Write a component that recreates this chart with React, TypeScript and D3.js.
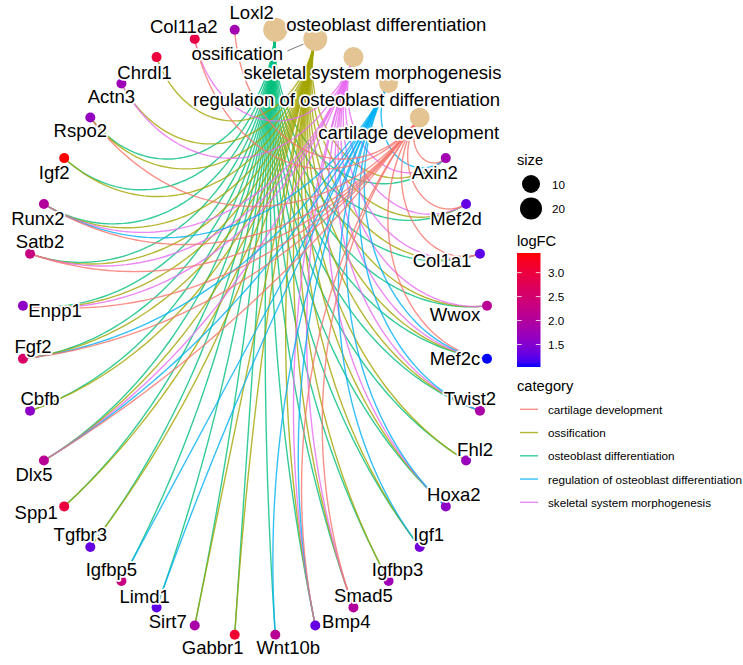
import React from "react";
import * as d3 from "d3";

// ---------- data ----------
const categories = [
  "osteoblast differentiation",
  "ossification",
  "skeletal system morphogenesis",
  "regulation of osteoblast differentiation",
  "cartilage development",
];

const genes = [
  "Axin2", "Mef2d", "Col1a1", "Wwox", "Mef2c", "Twist2", "Fhl2", "Hoxa2", "Igf1", "Igfbp3",
  "Smad5", "Bmp4", "Wnt10b", "Gabbr1", "Sirt7", "Limd1", "Igfbp5", "Tgfbr3", "Spp1", "Dlx5",
  "Cbfb", "Fgf2", "Enpp1", "Satb2", "Runx2", "Igf2", "Rspo2", "Actn3", "Chrdl1", "Col11a2", "Loxl2",
];

const logFC = [
  1.8, 1.3, 1.25, 2.1, 1.03, 1.9, 1.7, 1.6, 1.4, 1.75,
  2.0, 1.3, 2.1, 3.1, 1.9, 1.25, 2.3, 1.3, 3.0, 2.1,
  1.6, 2.6, 1.6, 2.3, 2.0, 3.41, 1.65, 1.75, 3.0, 2.9, 1.8,
];

const osteoblastDifferentiationGenes = [
  "Axin2", "Mef2d", "Col1a1", "Wwox", "Mef2c", "Twist2", "Fhl2", "Hoxa2", "Igf1", "Igfbp3",
  "Smad5", "Bmp4", "Wnt10b", "Gabbr1", "Sirt7", "Limd1", "Igfbp5", "Tgfbr3", "Spp1", "Dlx5",
  "Cbfb", "Fgf2", "Enpp1", "Satb2", "Runx2", "Igf2", "Rspo2",
];
const ossificationGenes = [
  "Axin2", "Mef2d", "Col1a1", "Wwox", "Mef2c", "Twist2", "Fhl2", "Hoxa2", "Igf1", "Igfbp3",
  "Smad5", "Bmp4", "Gabbr1", "Sirt7", "Tgfbr3", "Spp1", "Dlx5", "Cbfb", "Fgf2", "Enpp1",
  "Satb2", "Runx2", "Igf2", "Rspo2", "Actn3", "Chrdl1",
];
const skeletalSystemMorphogenesisGenes = [
  "Axin2", "Mef2d", "Col1a1", "Wwox", "Mef2c", "Twist2", "Hoxa2", "Smad5", "Bmp4", "Dlx5",
  "Enpp1", "Satb2", "Runx2", "Actn3", "Col11a2",
];
const regulationOfOsteoblastDifferentiationGenes = [
  "Axin2", "Mef2c", "Twist2", "Hoxa2", "Igf1", "Bmp4", "Wnt10b", "Limd1", "Igfbp5", "Dlx5",
  "Fgf2", "Runx2",
];
const cartilageDevelopmentGenes = [
  "Axin2", "Mef2d", "Col1a1", "Mef2c", "Smad5", "Bmp4", "Dlx5", "Fgf2", "Enpp1", "Satb2",
  "Runx2", "Rspo2", "Col11a2", "Loxl2",
];
const categoryGeneSets = [
  osteoblastDifferentiationGenes,
  ossificationGenes,
  skeletalSystemMorphogenesisGenes,
  regulationOfOsteoblastDifferentiationGenes,
  cartilageDevelopmentGenes,
];

const legendCategories = [
  "cartilage development",
  "ossification",
  "osteoblast differentiation",
  "regulation of osteoblast differentiation",
  "skeletal system morphogenesis",
];
const legendColors = ["#F8766D", "#A3A500", "#00BF7D", "#00B0F6", "#E76BF3"];
const sizeBreaks = [10, 20];
const logFCTicks = [1.5, 2.0, 2.5, 3.0];

// ---------- layout (label placement, repel-like offsets) ----------
const labelOffsets: Record<string, [number, number]> = {
  "osteoblast differentiation": [111, -5],
  ossification: [-78, 15],
  "skeletal system morphogenesis": [19, 15],
  "regulation of osteoblast differentiation": [-42, 16],
  "cartilage development": [-11, 15],
  Axin2: [-11, 14], Mef2d: [-10, 15], Col1a1: [-38, 7], Wwox: [-32, 9], Mef2c: [-32, 0],
  Twist2: [-10, -12], Fhl2: [9, -11], Hoxa2: [8, -12], Igf1: [9, -12], Igfbp3: [9, -11],
  Smad5: [10, -12], Bmp4: [31, -4], Wnt10b: [13, 13], Gabbr1: [-22, 13], Sirt7: [-27, -4],
  Limd1: [-12, -11], Igfbp5: [-10, -11], Tgfbr3: [-10, -12], Spp1: [-28, 6], Dlx5: [-10, 14],
  Cbfb: [10, -12], Fgf2: [10, -12], Enpp1: [32, 5], Satb2: [10, -12], Runx2: [-6, 15],
  Igf2: [-10, 14], Rspo2: [-10, 13], Actn3: [-10, 13], Chrdl1: [-12, 15], Col11a2: [-11, -12],
  Loxl2: [17, -17],
};

const W = 743;
const H = 665;
const FONT = "'Liberation Sans', Arial, Helvetica, sans-serif";

const xScale = d3.scaleLinear().domain([-1, 1]).range([22.1, 487.9]);
const yScale = d3.scaleLinear().domain([-1, 1]).range([635.85, 28.65]);

const nodeNames = [...categories, ...genes];
const angleScale = d3
  .scaleLinear()
  .domain([0, nodeNames.length])
  .range([(85 * Math.PI) / 180, (85 * Math.PI) / 180 - 2 * Math.PI]);

const colorScale = d3
  .scaleLinear<string>()
  .domain([d3.min(logFC) as number, d3.max(logFC) as number])
  .range(["blue", "red"])
  .interpolate(d3.interpolateLab);

const sizeScale = d3.scaleLinear().domain([Math.sqrt(10), Math.sqrt(20)]).range([9, 11]);
const rOf = (n: number) => sizeScale(Math.sqrt(n));

const catColor = (c: string) => legendColors[legendCategories.indexOf(c)];

function geodesic(a0: number, a1: number, steps = 80): [number, number][] {
  const p0: [number, number] = [Math.cos(a0), Math.sin(a0)];
  const p1: [number, number] = [Math.cos(a1), Math.sin(a1)];
  let d = Math.abs(a1 - a0) % (2 * Math.PI);
  if (d > Math.PI) d = 2 * Math.PI - d;
  if (Math.PI - d < 1e-3) return [p0, p1];
  const beta = Math.atan2(p0[1] + p1[1], p0[0] + p1[0]);
  const dist = 1 / Math.cos(d / 2);
  const r = Math.tan(d / 2);
  const ox = dist * Math.cos(beta);
  const oy = dist * Math.sin(beta);
  const t0 = Math.atan2(p0[1] - oy, p0[0] - ox);
  const t1 = Math.atan2(p1[1] - oy, p1[0] - ox);
  let dt = t1 - t0;
  while (dt > Math.PI) dt -= 2 * Math.PI;
  while (dt < -Math.PI) dt += 2 * Math.PI;
  const pts: [number, number][] = [];
  for (let k = 0; k <= steps; k++) {
    const t = t0 + (dt * k) / steps;
    pts.push([ox + r * Math.cos(t), oy + r * Math.sin(t)]);
  }
  return pts;
}

const line = d3
  .line<[number, number]>()
  .x((d) => xScale(d[0]))
  .y((d) => yScale(d[1]));

export default function App() {
  const nodePos = (name: string) => {
    const i = nodeNames.indexOf(name);
    const a = angleScale(i);
    return { a, x: xScale(Math.cos(a)), y: yScale(Math.sin(a)) };
  };

  const edges: { key: string; d: string; color: string }[] = [];
  categories.forEach((c, ci) => {
    const pc = nodePos(c);
    categoryGeneSets[ci].forEach((g) => {
      const pg = nodePos(g);
      edges.push({
        key: c + "-" + g,
        d: line(geodesic(pc.a, pg.a)) as string,
        color: catColor(c),
      });
    });
  });

  const textStyle: React.CSSProperties = {
    fontFamily: FONT,
    paintOrder: "stroke",
  };

  // colorbar
  const cbTop = 253;
  const cbBottom = 367;
  const cbX = 517;
  const cbW = 23.5;
  const cbScale = d3
    .scaleLinear()
    .domain(colorScale.domain())
    .range([cbBottom, cbTop]);
  const stops = d3.range(0, 21).map((k) => k / 20);

  const ossPos = nodePos("ossification");
  const ossOff = labelOffsets["ossification"];
  const leadStart = { x: ossPos.x + ossOff[0] + 50, y: ossPos.y + ossOff[1] - 3 };
  const vx = ossPos.x - leadStart.x;
  const vy = ossPos.y - leadStart.y;
  const vl = Math.hypot(vx, vy);
  const ossR = rOf(ossificationGenes.length) + 1;
  const leadEnd = { x: ossPos.x - (vx / vl) * ossR, y: ossPos.y - (vy / vl) * ossR };

  return (
    <svg
      width={W}
      height={H}
      style={{ position: "absolute", left: 0, top: 0, background: "#fff" }}
    >
      <defs>
        <linearGradient id="cb" x1="0" y1="1" x2="0" y2="0">
          {stops.map((s) => {
            const [lo, hi] = colorScale.domain();
            return <stop key={s} offset={s} stopColor={colorScale(lo + (hi - lo) * s)} />;
          })}
        </linearGradient>
      </defs>
      <rect width={W} height={H} fill="#fff" />

      {/* edges */}
      <g fill="none" strokeWidth={1.4} strokeOpacity={0.8}>
        {edges.map((e) => (
          <path key={e.key} d={e.d} stroke={e.color} />
        ))}
      </g>

      {/* leader segment */}
      <line
        x1={leadStart.x}
        y1={leadStart.y}
        x2={leadEnd.x}
        y2={leadEnd.y}
        stroke="#555"
        strokeWidth={0.8}
      />

      {/* nodes */}
      <g>
        {categories.map((c, ci) => {
          const p = nodePos(c);
          return (
            <circle key={c} cx={p.x} cy={p.y} r={rOf(categoryGeneSets[ci].length)} fill="#E5C494" />
          );
        })}
        {genes.map((g, gi) => {
          const p = nodePos(g);
          return <circle key={g} cx={p.x} cy={p.y} r={5} fill={colorScale(logFC[gi])} />;
        })}
      </g>

      {/* labels */}
      <g
        fontSize={18.5}
        textAnchor="middle"
        dominantBaseline="central"
        stroke="#fff"
        strokeWidth={3.5}
        strokeLinejoin="round"
        fill="#000"
      >
        {nodeNames.map((n) => {
          const p = nodePos(n);
          const o = labelOffsets[n];
          return (
            <text key={n} x={p.x + o[0]} y={p.y + o[1]} style={textStyle}>
              {n}
            </text>
          );
        })}
      </g>

      {/* legend: size */}
      <g style={{ fontFamily: FONT }}>
        <text x={517} y={165} fontSize={14.7}>size</text>
        {sizeBreaks.map((b, k) => {
          const cy = 184 + k * 24.5;
          return (
            <g key={b}>
              <circle cx={531} cy={cy} r={rOf(b)} fill="#000" />
              <text x={552} y={cy} fontSize={11.7} dominantBaseline="central">{b}</text>
            </g>
          );
        })}

        {/* legend: logFC */}
        <text x={517} y={245.5} fontSize={14.7}>logFC</text>
        <rect x={cbX} y={cbTop} width={cbW} height={cbBottom - cbTop} fill="url(#cb)" />
        {logFCTicks.map((t) => {
          const y = cbScale(t);
          return (
            <g key={t}>
              <line x1={cbX} x2={cbX + 4.7} y1={y} y2={y} stroke="#fff" strokeWidth={0.8} />
              <line x1={cbX + cbW - 4.7} x2={cbX + cbW} y1={y} y2={y} stroke="#fff" strokeWidth={0.8} />
              <text x={548} y={y} fontSize={11.7} dominantBaseline="central">{t.toFixed(1)}</text>
            </g>
          );
        })}

        {/* legend: category */}
        <text x={517} y={391} fontSize={14.7}>category</text>
        {legendCategories.map((c, k) => {
          const y = 409.3 + k * 23.25;
          return (
            <g key={c}>
              <line x1={520} x2={538} y1={y} y2={y} stroke={legendColors[k]} strokeOpacity={0.8} strokeWidth={1.4} />
              <text x={548} y={y} fontSize={11.7} dominantBaseline="central">{c}</text>
            </g>
          );
        })}
      </g>
    </svg>
  );
}
